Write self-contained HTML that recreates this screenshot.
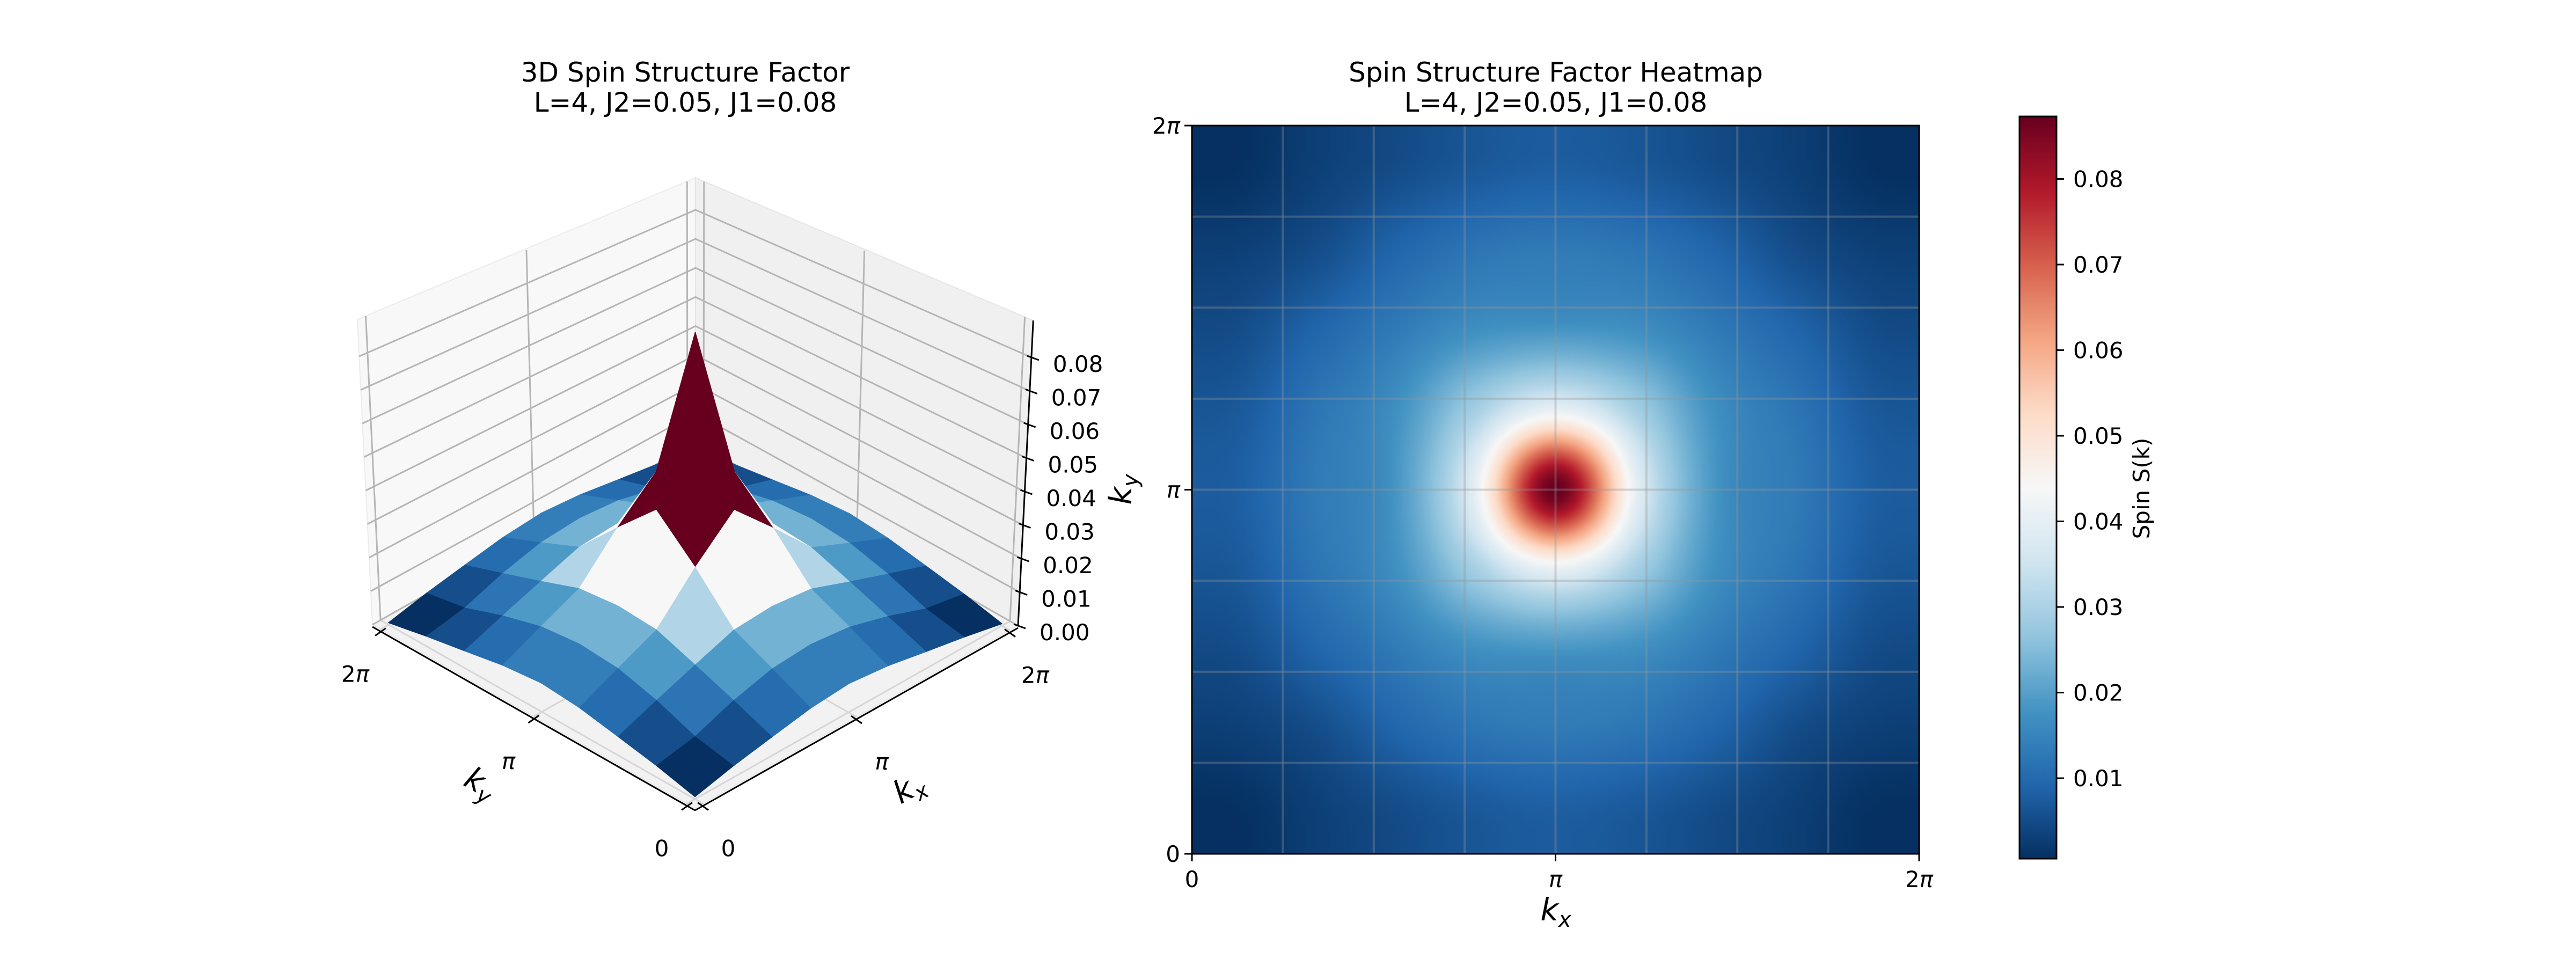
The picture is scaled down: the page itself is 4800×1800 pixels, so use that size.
<!DOCTYPE html>
<html><head><meta charset="utf-8"><style>
html,body{margin:0;padding:0;background:#fff;}
#root{position:relative;width:4800px;height:1800px;overflow:hidden;font-family:"DejaVu Sans","Liberation Sans",sans-serif;}
svg{position:absolute;left:0;top:0;}
canvas{position:absolute;}
</style></head><body>
<div id="root">
<canvas id="heat" width="452" height="452" style="left:2221px;top:234px;width:1355px;height:1357px;"></canvas>
<svg id="svg" width="4800" height="1800" viewBox="0 0 4800 1800"></svg>
</div>
<script>
// ---- data: S(k) on a 9x9 grid, rows = ky index, cols = kx index ----
const kTickLabels = ["0", "π", "2π"];
const zTicks = [0.00, 0.01, 0.02, 0.03, 0.04, 0.05, 0.06, 0.07, 0.08];
const cbTicks = [0.01, 0.02, 0.03, 0.04, 0.05, 0.06, 0.07, 0.08];
const row0 = [0.0006, 0.003, 0.005, 0.007, 0.008, 0.007, 0.005, 0.003, 0.0006];
const row1 = [0.003, 0.005, 0.009, 0.012, 0.013, 0.012, 0.009, 0.005, 0.003];
const row2 = [0.005, 0.009, 0.013, 0.017, 0.018, 0.017, 0.013, 0.009, 0.005];
const row3 = [0.007, 0.012, 0.017, 0.029, 0.040, 0.029, 0.017, 0.012, 0.007];
const row4 = [0.008, 0.013, 0.018, 0.040, 0.0873, 0.040, 0.018, 0.013, 0.008];
const row5 = [0.007, 0.012, 0.017, 0.029, 0.040, 0.029, 0.017, 0.012, 0.007];
const row6 = [0.005, 0.009, 0.013, 0.017, 0.018, 0.017, 0.013, 0.009, 0.005];
const row7 = [0.003, 0.005, 0.009, 0.012, 0.013, 0.012, 0.009, 0.005, 0.003];
const row8 = [0.0006, 0.003, 0.005, 0.007, 0.008, 0.007, 0.005, 0.003, 0.0006];
const S = [row0, row1, row2, row3, row4, row5, row6, row7, row8];

const NS = "http://www.w3.org/2000/svg";
const svg = document.getElementById('svg');
function mk(tag, attrs, parent) {
  const e = document.createElementNS(NS, tag);
  for (const k in attrs) e.setAttribute(k, attrs[k]);
  (parent || svg).appendChild(e);
  return e;
}
const cmapStops = ["#053061","#2166ac","#4393c3","#92c5de","#d1e5f0","#f7f7f7","#fddbc7","#f4a582","#d6604d","#b2182b","#67001f"].map(h => [parseInt(h.substr(1,2),16),parseInt(h.substr(3,2),16),parseInt(h.substr(5,2),16)]);
function cmap(t) {
  t = Math.max(0, Math.min(1, t)) * 10;
  const i = Math.min(9, Math.floor(t)), f = t - i;
  const a = cmapStops[i], b = cmapStops[i + 1];
  return [a[0] + (b[0] - a[0]) * f, a[1] + (b[1] - a[1]) * f, a[2] + (b[2] - a[2]) * f];
}
function rgb(c) { return "rgb(" + Math.round(c[0]) + "," + Math.round(c[1]) + "," + Math.round(c[2]) + ")"; }

const nR = S.length, nC = S[0].length;
let vmin = Infinity, vmax = -Infinity;
S.forEach(r => r.forEach(v => { vmin = Math.min(vmin, v); vmax = Math.max(vmax, v); }));

// ================= 3D surface =================
const F = [1295, 1506], R = [1897, 1166], L = [694, 1164];
const CX = 1295, ZMAXBOX = 0.091, ZPX = 6250, PA = 0.183, M = 0.025;
function P(u, v, z) {
  const bx = F[0] + u * (R[0] - F[0]) + v * (L[0] - F[0]);
  const by = F[1] + u * (R[1] - F[1]) + v * (L[1] - F[1]);
  const d = u + v, h = (1 + PA) / (1 + PA * d);
  return [CX + (bx - CX) * (1 + 0.047 * z / ZMAXBOX), by - z * ZPX * h];
}
function pts(arr) { return arr.map(p => p[0].toFixed(1) + "," + p[1].toFixed(1)).join(" "); }
const g3 = mk('g', { });
mk('polygon', {points: pts([P(0,0,0), P(1,0,0), P(1,1,0), P(0,1,0)]), fill: '#f2f2f2', stroke: '#e8e8e8', 'stroke-width': 2,  }, g3);
mk('polygon', {points: pts([P(0,1,0), P(1,1,0), P(1,1,ZMAXBOX), P(0,1,ZMAXBOX)]), fill: '#f8f8f8', stroke: '#ececec', 'stroke-width': 2,  }, g3);
mk('polygon', {points: pts([P(1,0,0), P(1,1,0), P(1,1,ZMAXBOX), P(1,0,ZMAXBOX)]), fill: '#f0f0f0', stroke: '#e6e6e6', 'stroke-width': 2,  }, g3);
const gridC = '#b5b5b5', gw = 3;
const kPos = kTickLabels.map((_, i) => M + i / (kTickLabels.length - 1) * (1 - 2 * M));
kPos.forEach(t => {
  mk('line', {x1: P(t,1,0)[0], y1: P(t,1,0)[1], x2: P(t,1,ZMAXBOX)[0], y2: P(t,1,ZMAXBOX)[1], stroke: gridC, 'stroke-width': gw,  }, g3);
  mk('line', {x1: P(1,t,0)[0], y1: P(1,t,0)[1], x2: P(1,t,ZMAXBOX)[0], y2: P(1,t,ZMAXBOX)[1], stroke: gridC, 'stroke-width': gw,  }, g3);
  mk('line', {x1: P(t,0,0)[0], y1: P(t,0,0)[1], x2: P(t,1,0)[0], y2: P(t,1,0)[1], stroke: '#d6d6d6', 'stroke-width': gw,  }, g3);
  mk('line', {x1: P(0,t,0)[0], y1: P(0,t,0)[1], x2: P(1,t,0)[0], y2: P(1,t,0)[1], stroke: '#d6d6d6', 'stroke-width': gw,  }, g3);
});
zTicks.forEach(z => {
  mk('polyline', {points: pts([P(0,1,z), P(1,1,z), P(1,0,z)]), fill: 'none', stroke: gridC, 'stroke-width': gw,  }, g3);
});
const faces = [];
for (let i = 0; i < nR - 1; i++) for (let j = 0; j < nC - 1; j++) {
  const cs = [[j,i],[j+1,i],[j+1,i+1],[j,i+1]];
  const zs = cs.map(c => S[c[1]][c[0]]);
  const mean = zs.reduce((a,b)=>a+b,0) / 4;
  const p = cs.map((c, k) => P(M + c[0] / (nC - 1) * (1 - 2 * M), M + c[1] / (nR - 1) * (1 - 2 * M), zs[k]));
  faces.push({p, mean, depth: (i + j + 1) / (nR - 1) - mean * 2});
}
let fmin = Infinity, fmax = -Infinity;
faces.forEach(f => { fmin = Math.min(fmin, f.mean); fmax = Math.max(fmax, f.mean); });
faces.sort((a, b) => b.depth - a.depth);
const gs = mk('g', { }, g3);
faces.forEach(f => {
  const col = rgb(cmap((f.mean - fmin) / (fmax - fmin)));
  const e = mk('polygon', {points: pts(f.p), fill: col, stroke: col, 'stroke-width': 1.5, 'stroke-linejoin': 'round'}, gs);
  
  
});
mk('line', {x1: P(0,0,0)[0], y1: P(0,0,0)[1] + 4, x2: P(1,0,0)[0], y2: P(1,0,0)[1] + 4, stroke: '#000', 'stroke-width': 3,  }, g3);
mk('line', {x1: P(0,0,0)[0], y1: P(0,0,0)[1] + 4, x2: P(0,1,0)[0], y2: P(0,1,0)[1] + 4, stroke: '#000', 'stroke-width': 3,  }, g3);
mk('line', {x1: P(1,0,0)[0], y1: P(1,0,0)[1], x2: P(1,0,ZMAXBOX)[0], y2: P(1,0,ZMAXBOX)[1], stroke: '#000', 'stroke-width': 3,  }, g3);
function txt(x, y, s, attrs, parent) {
  const e = mk('text', Object.assign({x, y, 'font-size': 42, fill: '#000'}, attrs), parent || svg);
  e.textContent = s;
  return e;
}
// tick label with italic pi (mathtext style)
function piTxt(x, y, s, attrs, parent) {
  const e = mk('text', Object.assign({x, y, 'font-size': 42, fill: '#000'}, attrs), parent || svg);
  for (const ch of s) {
    const t = mk('tspan', ch === 'π' ? {'font-style': 'italic'} : {}, e);
    t.textContent = ch;
  }
  return e;
}
zTicks.forEach(z => {
  const p = P(1, 0, z);
  mk('line', {x1: p[0] - 8, y1: p[1] - 3, x2: p[0] + 14, y2: p[1] + 5, stroke: '#000', 'stroke-width': 3,  }, g3);
  txt(p[0] + 40, p[1] + 27, z.toFixed(2), { }, g3);
});
kPos.forEach((t, i) => {
  const a = P(t, 0, 0), b = P(0, t, 0);
  mk('line', {x1: a[0] - 10, y1: a[1] - 2, x2: a[0] + 10, y2: a[1] + 12, stroke: '#000', 'stroke-width': 3,  }, g3);
  mk('line', {x1: b[0] + 10, y1: b[1] - 2, x2: b[0] - 10, y2: b[1] + 12, stroke: '#000', 'stroke-width': 3,  }, g3);
  piTxt(a[0] + 47, a[1] + 98, kTickLabels[i], {'text-anchor': 'middle',  }, g3);
  piTxt(b[0] - 47, b[1] + 98, kTickLabels[i], {'text-anchor': 'middle',  }, g3);
});
function klabel(x, y, sub, rot, name) {
  const e = mk('text', {x, y, 'font-size': 58, 'text-anchor': 'middle', transform: 'rotate(' + rot + ' ' + x + ' ' + y + ')',  });
  const t1 = mk('tspan', {'font-style': 'italic'}, e); t1.textContent = 'k';
  const t2 = mk('tspan', {'font-style': 'italic', 'font-size': 40, dy: 12}, e); t2.textContent = sub;
  return e;
}
klabel(1703, 1485, 'x', -29, 'kx-axis-title-3d');
klabel(886, 1476, 'y', 29, 'ky-axis-title-3d');
txt(1277, 152, '3D Spin Structure Factor', {'font-size': 50, 'text-anchor': 'middle',  });
txt(1277, 208, 'L=4, J2=0.05, J1=0.08', {'font-size': 50, 'text-anchor': 'middle',  });

// ================= Heatmap =================
const HX0 = 2221, HX1 = 3576, HY0 = 234, HY1 = 1591;
const cv = document.getElementById('heat'), ctx = cv.getContext('2d');
const N = cv.width, img = ctx.createImageData(N, N);
function kern(x) { x = Math.abs(x); const a = -0.5;
  if (x <= 1) return (a + 2) * x * x * x - (a + 3) * x * x + 1;
  if (x < 2) return a * x * x * x - 5 * a * x * x + 8 * a * x - 4 * a; return 0; }
function samp(i, j) { i = Math.max(0, Math.min(nR - 1, i)); j = Math.max(0, Math.min(nC - 1, j)); return S[i][j]; }
for (let py = 0; py < N; py++) {
  const sy = (N - 1 - py + 0.5) / N * nR - 0.5;
  const iy = Math.floor(sy), fy = sy - iy;
  for (let px = 0; px < N; px++) {
    const sx = (px + 0.5) / N * nC - 0.5;
    const ix = Math.floor(sx), fx = sx - ix;
    let v = 0;
    for (let m = -1; m <= 2; m++) { const wy = kern(m - fy);
      for (let n = -1; n <= 2; n++) v += wy * kern(n - fx) * samp(iy + m, ix + n); }
    const c = cmap((v - vmin) / (vmax - vmin));
    const o = (py * N + px) * 4;
    img.data[o] = c[0]; img.data[o + 1] = c[1]; img.data[o + 2] = c[2]; img.data[o + 3] = 255;
  }
}
ctx.putImageData(img, 0, 0);
const gh = mk('g', { });
const xs = v => HX0 + v * (HX1 - HX0), ys = v => HY1 - v * (HY1 - HY0);
for (let n = 1; n < 8; n++) {
  mk('line', {x1: xs(n / 8), y1: HY0, x2: xs(n / 8), y2: HY1, stroke: 'rgba(150,150,150,0.35)', 'stroke-width': 4,  }, gh);
  mk('line', {x1: HX0, y1: ys(n / 8), x2: HX1, y2: ys(n / 8), stroke: 'rgba(150,150,150,0.35)', 'stroke-width': 4,  }, gh);
}
mk('rect', {x: HX0, y: HY0, width: HX1 - HX0, height: HY1 - HY0, fill: 'none', stroke: '#000', 'stroke-width': 3,  }, gh);
kTickLabels.forEach((s, i) => {
  const t = i / (kTickLabels.length - 1);
  mk('line', {x1: xs(t), y1: HY1, x2: xs(t), y2: HY1 + 14, stroke: '#000', 'stroke-width': 3,  }, gh);
  piTxt(xs(t), HY1 + 62, s, {'text-anchor': 'middle',  }, gh);
  mk('line', {x1: HX0 - 14, y1: ys(t), x2: HX0, y2: ys(t), stroke: '#000', 'stroke-width': 3,  }, gh);
  piTxt(HX0 - 22, ys(t) + 15, s, {'text-anchor': 'end',  }, gh);
});
klabel(2899, 1715, 'x', 0, 'x-axis-title');
klabel(2108, 912, 'y', -90, 'y-axis-title');
txt(2899, 152, 'Spin Structure Factor Heatmap', {'font-size': 50, 'text-anchor': 'middle',  });
txt(2899, 208, 'L=4, J2=0.05, J1=0.08', {'font-size': 50, 'text-anchor': 'middle',  });

// ================= Colorbar =================
const CBX = 3763, CBW = 69, CBY0 = 217, CBY1 = 1600;
const defs = mk('defs', {});
const lg = mk('linearGradient', {id: 'cbg', x1: 0, y1: 1, x2: 0, y2: 0}, defs);
for (let k = 0; k <= 20; k++) mk('stop', {offset: k / 20, 'stop-color': rgb(cmap(k / 20))}, lg);
const gc = mk('g', { });
mk('rect', {x: CBX, y: CBY0, width: CBW, height: CBY1 - CBY0, fill: 'url(#cbg)', stroke: '#000', 'stroke-width': 3,  }, gc);
const cy = v => CBY1 - (v - vmin) / (vmax - vmin) * (CBY1 - CBY0);
cbTicks.forEach(v => {
  mk('line', {x1: CBX + CBW, y1: cy(v), x2: CBX + CBW + 14, y2: cy(v), stroke: '#000', 'stroke-width': 3,  }, gc);
  txt(CBX + CBW + 31, cy(v) + 15, v.toFixed(2), { }, gc);
});
txt(4005, 910, 'Spin S(k)', {'text-anchor': 'middle', transform: 'rotate(-90 4005 910)',  }, gc);
</script>
</body></html>
